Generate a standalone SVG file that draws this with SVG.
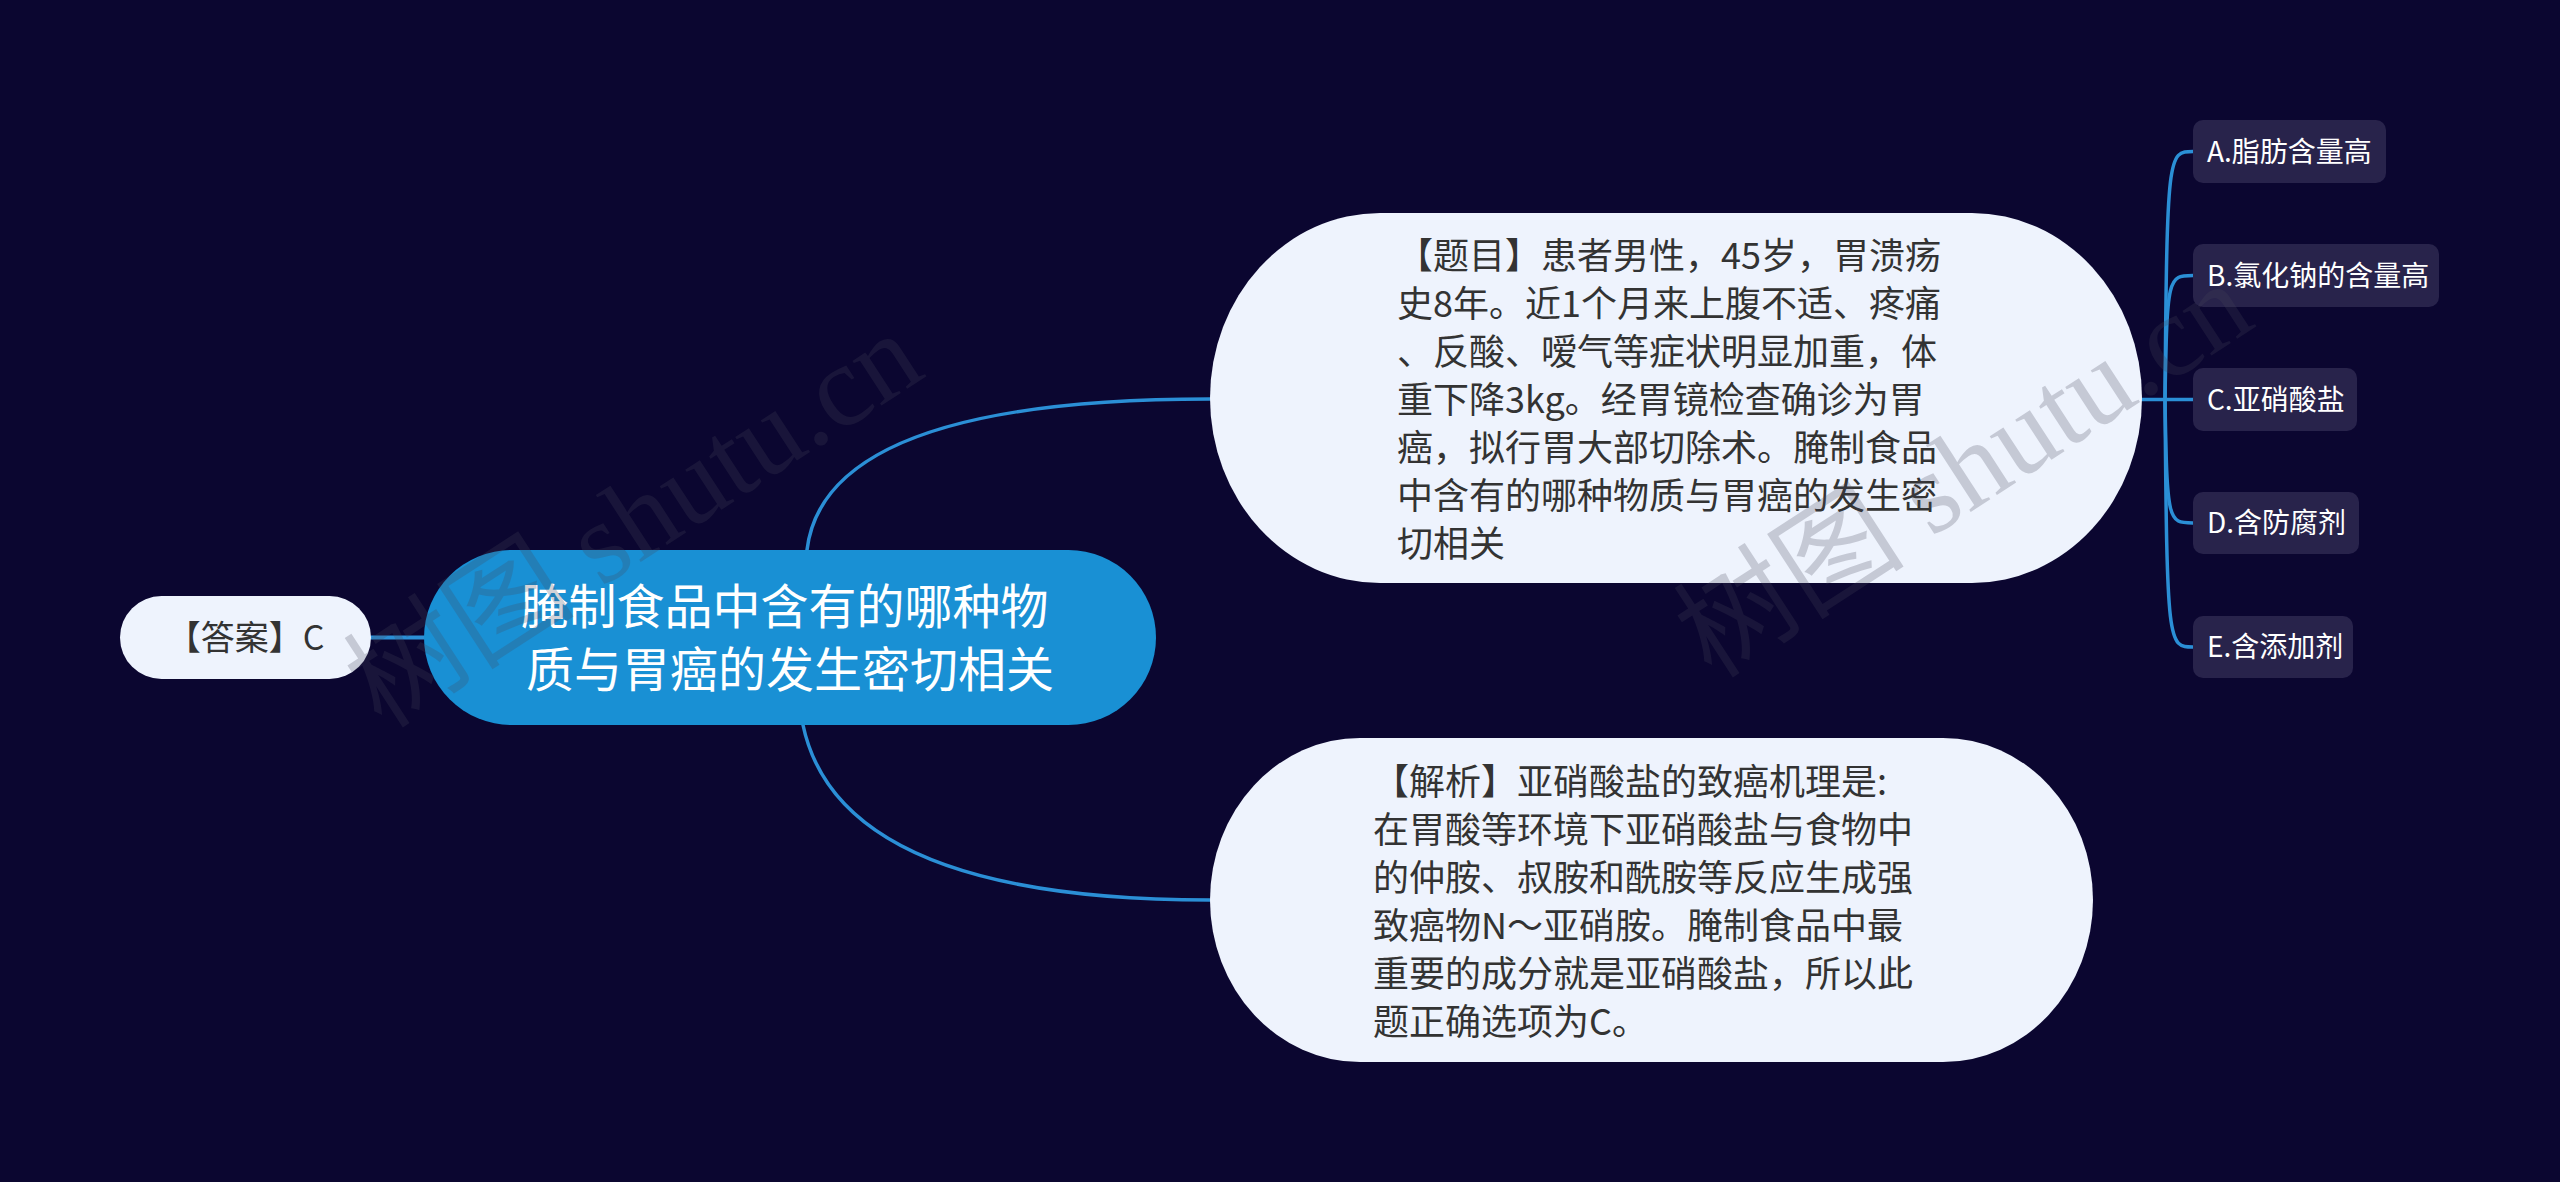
<svg xmlns="http://www.w3.org/2000/svg" width="2560" height="1182" viewBox="0 0 2560 1182">
<style>
.bg{fill:#0b0630}
.conn{fill:none;stroke:#2b8fd6;stroke-width:3.5;stroke-linecap:round}
.light{fill:#eef3fd}
.central{fill:#1990d4}
.opt{fill:#28234b}
.t{font-family:"Noto Sans CJK SC","Noto Sans",sans-serif}
.dark{fill:#333333}
.white{fill:#ffffff}
.wm{font-family:"Liberation Serif","Noto Sans CJK SC",serif;font-size:116px;fill:#46465a;opacity:0.24}
</style>
<rect class="bg" x="0" y="0" width="2560" height="1182"/>
<g id="connectors">
  <path class="conn" d="M371,637.5 H424" style="stroke-width:4"/>
  <path class="conn" d="M807,550 Q825,399 1210,399"/>
  <path class="conn" d="M803,725 Q840,900 1210,900"/>
  <path class="conn" d="M2142,399.5 H2193"/>
  <path class="conn" d="M2165,399.5 C2167,151.5 2168,151.5 2193,151.5"/>
  <path class="conn" d="M2165,399.5 C2167,275.5 2168,275.5 2193,275.5"/>
  <path class="conn" d="M2165,399.5 C2167,523 2168,523 2193,523"/>
  <path class="conn" d="M2165,399.5 C2167,647 2168,647 2193,647"/>
</g>
<g id="answer">
  <rect class="light" x="120" y="596" width="251" height="83" rx="41.5"/>
  <text class="t dark" x="245.5" y="650" font-size="34" text-anchor="middle">【答案】C</text>
</g>
<g id="central">
  <rect class="central" x="424" y="550" width="732" height="175" rx="87.5"/>
  <text class="t white" font-size="48" text-anchor="middle">
    <tspan x="790" y="624">腌制食品中含有的哪种物</tspan>
    <tspan x="790" y="687">质与胃癌的发生密切相关</tspan>
  </text>
</g>
<g id="question">
  <rect class="light" x="1210" y="213" width="932" height="370" rx="170" ry="185"/>
  <text class="t dark" font-size="36">
    <tspan x="1397" y="269">【题目】患者男性，45岁，胃溃疡</tspan>
    <tspan x="1397" y="317">史8年。近1个月来上腹不适、疼痛</tspan>
    <tspan x="1397" y="365">、反酸、嗳气等症状明显加重，体</tspan>
    <tspan x="1397" y="413">重下降3kg。经胃镜检查确诊为胃</tspan>
    <tspan x="1397" y="461">癌，拟行胃大部切除术。腌制食品</tspan>
    <tspan x="1397" y="509">中含有的哪种物质与胃癌的发生密</tspan>
    <tspan x="1397" y="557">切相关</tspan>
  </text>
</g>
<g id="explanation">
  <rect class="light" x="1210" y="738" width="883" height="324" rx="150" ry="162"/>
  <text class="t dark" font-size="36">
    <tspan x="1373" y="795">【解析】亚硝酸盐的致癌机理是:</tspan>
    <tspan x="1373" y="843">在胃酸等环境下亚硝酸盐与食物中</tspan>
    <tspan x="1373" y="891">的仲胺、叔胺和酰胺等反应生成强</tspan>
    <tspan x="1373" y="939">致癌物N～亚硝胺。腌制食品中最</tspan>
    <tspan x="1373" y="987">重要的成分就是亚硝酸盐，所以此</tspan>
    <tspan x="1373" y="1035">题正确选项为C。</tspan>
  </text>
</g>
<g id="optA">
  <rect class="opt" x="2193" y="120" width="193" height="63" rx="10"/>
  <text class="t white" x="2207" y="161.5" font-size="28">A.脂肪含量高</text>
</g>
<g id="optB">
  <rect class="opt" x="2193" y="244" width="246" height="63" rx="10"/>
  <text class="t white" x="2207" y="285.5" font-size="28">B.氯化钠的含量高</text>
</g>
<g id="optC">
  <rect class="opt" x="2193" y="368" width="164" height="63" rx="10"/>
  <text class="t white" x="2207" y="409.5" font-size="28">C.亚硝酸盐</text>
</g>
<g id="optD">
  <rect class="opt" x="2193" y="492" width="166" height="62" rx="10"/>
  <text class="t white" x="2207" y="533" font-size="28">D.含防腐剂</text>
</g>
<g id="optE">
  <rect class="opt" x="2193" y="616" width="160" height="62" rx="10"/>
  <text class="t white" x="2207" y="657" font-size="28">E.含添加剂</text>
</g>
<g id="watermarks">
  <text class="wm" transform="translate(382,730) rotate(-33)">树图 shutu.cn</text>
  <text class="wm" transform="translate(1712,680) rotate(-33)">树图 shutu.cn</text>
</g>
</svg>
